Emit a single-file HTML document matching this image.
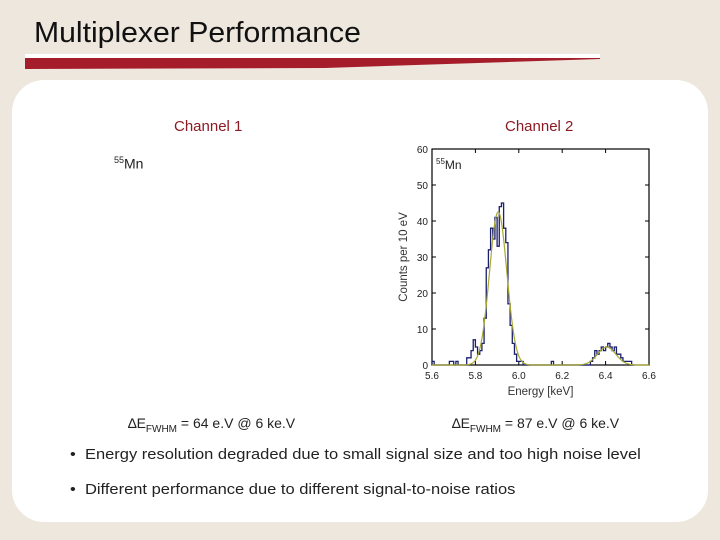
<!DOCTYPE html>
<html><head><meta charset="utf-8"><style>
body{margin:0;width:720px;height:540px;background:#ede7dd;position:relative;overflow:hidden;font-family:"Liberation Sans",sans-serif;}
.abs{position:absolute;white-space:nowrap;}
</style></head><body>
<div class="abs" style="left:34px;top:17px;font-size:29px;color:#111;transform:scaleX(1.04);transform-origin:left">Multiplexer Performance</div>
<div class="abs" style="left:25px;top:54px;width:575px;height:4px;background:#fff"></div>
<svg class="abs" style="left:25px;top:58px" width="580" height="12"><polygon points="0,0 575,0 575,1 300,10 0,11" fill="#a51d2b"/></svg>
<div class="abs" style="left:12px;top:80px;width:696px;height:442px;background:#fff;border-radius:32px"></div>
<div class="abs" style="left:174px;top:118px;font-size:15px;color:#8b1a22">Channel 1</div>
<div class="abs" style="left:505px;top:118px;font-size:15px;color:#8b1a22">Channel 2</div>
<div class="abs" style="left:114px;top:155px;font-size:14px;color:#222"><sup style="font-size:9px">55</sup>Mn</div>
<div class="abs" style="left:128px;top:415px;font-size:14px;color:#222">∆E<sub style="font-size:10px">FWHM</sub> = 64 e.V @ 6 ke.V</div>
<div class="abs" style="left:452px;top:415px;font-size:14px;color:#222">∆E<sub style="font-size:10px">FWHM</sub> = 87 e.V @ 6 ke.V</div>
<div class="abs" style="left:70px;top:446px;font-size:15px;color:#222;transform:scaleX(1.1);transform-origin:left">•&nbsp;&nbsp;Energy resolution degraded due to small signal size and too high noise level</div>
<div class="abs" style="left:70px;top:481px;font-size:15px;color:#222;transform:scaleX(1.1);transform-origin:left">•&nbsp;&nbsp;Different performance due to different signal-to-noise ratios</div>
<svg class="abs" id="chart" style="left:0;top:0" width="720" height="540"></svg>
<script>
const binStart=5.60, binWidth=0.01;
const counts=[1,0,0,0,0,0,0,0,1,1,0,1,0,0,0,0,2,2,4,7,5,3,4,6,13,27,32,38,35,41,33,44,45,38,34,17,11,6,3,1,1,1,0,0,0,0,0,0,0,0,0,0,0,0,0,1,0,0,0,0,0,0,0,0,0,0,0,0,0,0,0,0,0,1,2,4,3,4,5,4,5,6,5,4,5,3,3,2,1,1,1,1,0];
const fitAmp=[42.5,5.0], fitMean=[5.905,6.405], fitSigma=[0.04,0.042];
const xTicks=[5.6,5.8,6.0,6.2,6.4,6.6], yTicks=[0,10,20,30,40,50,60];
const NS="http://www.w3.org/2000/svg";
const svg=document.getElementById('chart');
const L=432,R=649,T=149,B=365;
const X=v=>L+(v-5.6)/(6.6-5.6)*(R-L);
const Y=v=>B-v/60*(B-T);
function mk(t,a,p){const e=document.createElementNS(NS,t);for(const k in a)e.setAttribute(k,a[k]);(p||svg).appendChild(e);return e;}
let frame=mk('rect',{x:L,y:T,width:R-L,height:B-T,fill:'none',stroke:'#000','stroke-width':1.2});


xTicks.forEach(t=>{
  mk('line',{x1:X(t),x2:X(t),y1:B,y2:B-4,stroke:'#000'});
  mk('line',{x1:X(t),x2:X(t),y1:T,y2:T+4,stroke:'#000'});
  let tx=mk('text',{x:X(t),y:B+14,'text-anchor':'middle','font-size':10,fill:'#222'});tx.textContent=t.toFixed(1);
  
  
});
yTicks.forEach(t=>{
  mk('line',{x1:L,x2:L+4,y1:Y(t),y2:Y(t),stroke:'#000'});
  mk('line',{x1:R,x2:R-4,y1:Y(t),y2:Y(t),stroke:'#000'});
  let ty=mk('text',{x:L-4,y:Y(t)+4,'text-anchor':'end','font-size':10,fill:'#222'});ty.textContent=t;
  
  
});
let xt=mk('text',{x:(L+R)/2,y:B+30,'text-anchor':'middle','font-size':11.5,fill:'#333'});xt.textContent='Energy [keV]';


let yt=mk('text',{x:0,y:0,'text-anchor':'middle','font-size':11.5,fill:'#333',transform:`translate(407,${(T+B)/2}) rotate(-90)`});yt.textContent='Counts per 10 eV';


let iso=mk('text',{x:L+4,y:T+20,'font-size':12,fill:'#222'});
iso.innerHTML='<tspan font-size="8" dy="-5">55</tspan><tspan dy="5">Mn</tspan>';


let d='M'+X(binStart)+','+Y(0);
counts.forEach((c,i)=>{const x0=X(binStart+i*binWidth),x1=X(binStart+(i+1)*binWidth);d+=` L${x0},${Y(c)} L${x1},${Y(c)}`;});
d+=` L${X(binStart+counts.length*binWidth)},${Y(0)}`;
let h=mk('path',{d:d,fill:'none',stroke:'#1a1f6e','stroke-width':1.3});


let fd='';
for(let i=0;i<=400;i++){const e=5.6+i*0.0025;let v=0;for(let k=0;k<fitAmp.length;k++)v+=fitAmp[k]*Math.exp(-0.5*((e-fitMean[k])/fitSigma[k])**2);fd+=(i?' L':'M')+X(e)+','+Y(v);}
let f=mk('path',{d:fd,fill:'none',stroke:'#a8a830','stroke-width':1.2});


</script>
</body></html>
